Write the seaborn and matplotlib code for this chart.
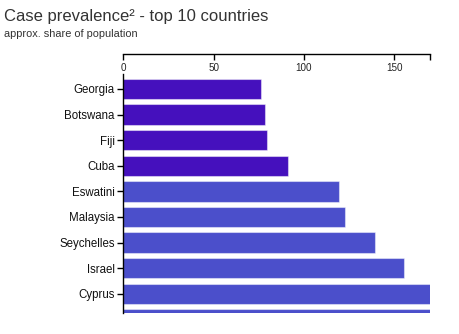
import matplotlib
matplotlib.use("Agg")
import matplotlib.pyplot as plt
import seaborn as sns
import pandas as pd

countries = ["Georgia", "Botswana", "Fiji", "Cuba", "Eswatini", "Malaysia",
             "Seychelles", "Israel", "Cyprus", "Andorra"]
values = [76, 78.4, 79.5, 91, 119.4, 123, 139.5, 155.5, 172, 180]
bar_colors = ["#4510BD"] * 4 + ["#4B4FCB"] * 6
x_ticks = [0, 50, 100, 150]
x_max = 170

sns.set_theme(style="white")
plt.rcParams["font.family"] = ["Liberation Sans", "DejaVu Sans"]

df = pd.DataFrame({"country": countries, "value": values})

fig = plt.figure(figsize=(4.6, 3.34), dpi=100)
ax = fig.add_axes([0.268, 0.0629, 0.9355 - 0.268, 0.777 - 0.0629])

sns.barplot(data=df, x="value", y="country", hue="country",
            palette=bar_colors, legend=False, width=0.8, ax=ax,
            edgecolor=(1, 1, 1, 0.45), linewidth=0.8, saturation=1)

ax.set_xlim(0, x_max)
ax.set_ylim(8.75, -0.566)
ax.set_xlabel("")
ax.set_ylabel("")

for s in ["right", "bottom"]:
    ax.spines[s].set_visible(False)
ax.spines["top"].set_position(("outward", 14.5))
for s in ["top", "left"]:
    ax.spines[s].set_color("black")
    ax.spines[s].set_linewidth(1)

ax.xaxis.set_ticks_position("top")
ax.set_xticks(x_ticks + [x_max])
ax.set_xticklabels([str(t) for t in x_ticks] + [""])
ax.tick_params(axis="x", which="major", direction="in", length=4.2, width=1,
               color="black", top=True, bottom=False, labeltop=True,
               labelbottom=False, pad=-13.2, labelsize=7.1, labelcolor="#222222")
ax.tick_params(axis="y", which="major", direction="out", length=4.3, width=1,
               color="black", left=True, pad=2, labelsize=8.3, labelcolor="#111111")
ax.grid(False)

fig.text(0.009, 1 - 21 / 334, "Case prevalence\u00b2 - top 10 countries",
         fontsize=12, color="#333333", va="baseline", ha="left")
fig.text(0.009, 1 - 37 / 334, "approx. share of population",
         fontsize=7.9, color="#333333", va="baseline", ha="left")

fig.savefig("out.png", dpi=100)
